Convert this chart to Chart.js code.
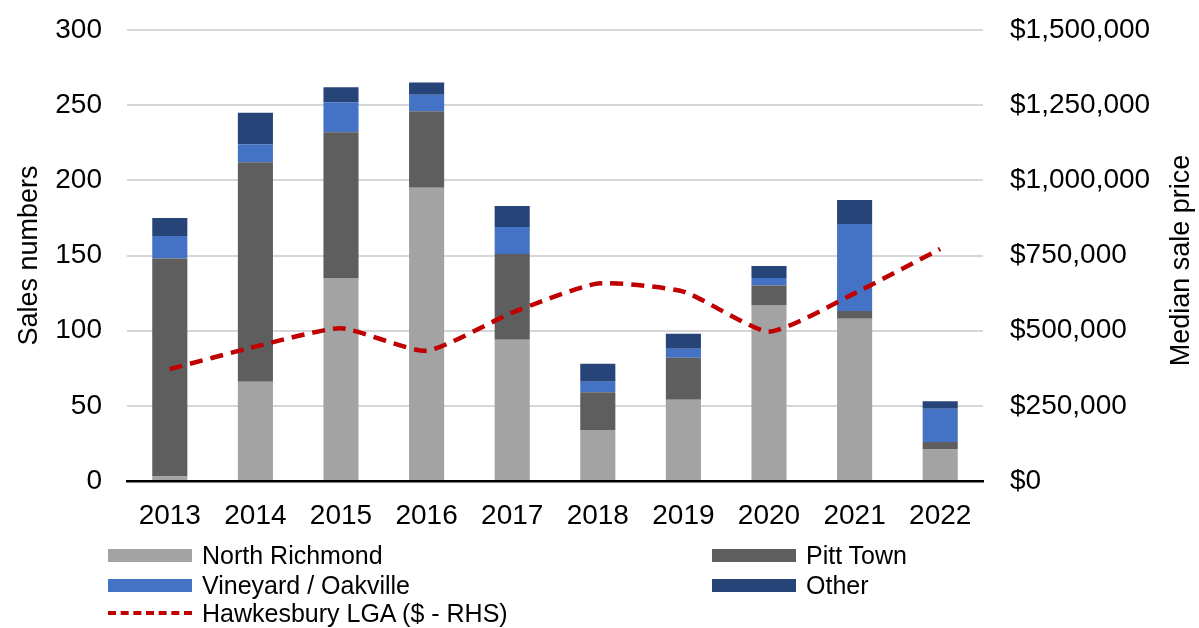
<!DOCTYPE html>
<html>
<head>
<meta charset="utf-8">
<script src="https://cdn.jsdelivr.net/npm/chart.js@4"></script>
<style>
    body { margin: 0; background: #fff; }
    #wrap { position: relative; width: 1199px; height: 628px; }
    #legend { position: absolute; left: 0; top: 0; width: 1199px; height: 628px; pointer-events: none;
              font-family: "Liberation Sans", Arial, sans-serif; font-size: 25px; color: #000; }
    .item { position: absolute; display: flex; align-items: center; height: 28px; }
    .swatch { width: 84px; height: 13px; margin-right: 10px; }
    .dash { width: 84px; height: 0; border-top: 4px dashed #c00000; margin-right: 10px; }
</style>
</head>
<body>
<div id="wrap">
    <canvas id="chart" width="1199" height="628"></canvas>
    <div id="legend"></div>
</div>
<script>
// ================= DATA =================
const years = ["2013","2014","2015","2016","2017","2018","2019","2020","2021","2022"];
const northRichmond = [3, 66, 135, 195, 94, 34, 54, 117, 108, 21];
const pittTown = [145, 146, 97, 51, 57, 25, 28, 13, 5, 5];
const vineyard = [15, 12, 20, 11, 18, 7, 6, 5, 58, 22];
const other = [12, 21, 10, 8, 14, 12, 10, 8, 16, 5];
const medianPrice = [372000, 447000, 508000, 433000, 560000, 657000, 630000, 497000, 624000, 772000];

const leftTicks = [0, 50, 100, 150, 200, 250, 300];
const rightTicks = [0, 250000, 500000, 750000, 1000000, 1250000, 1500000];

const FONT = "'Liberation Sans', Arial, sans-serif";

// ================= RIGHT TITLE (reads bottom to top) =================
const rightTitle = {
    id: "rightTitle",
    afterDraw(chart) {
        const ctx = chart.ctx;
        const area = chart.chartArea;
        ctx.save();
        ctx.translate(1182, (area.top + area.bottom) / 2 + 5);
        ctx.rotate(-Math.PI / 2);
        ctx.font = "27px " + FONT;
        ctx.fillStyle = "#000";
        ctx.textAlign = "center";
        ctx.textBaseline = "middle";
        ctx.fillText("Median sale price", 0, 0);
        ctx.restore();
    }
};

function noEdgePadding(scale) {
    scale.paddingTop = 0;
    scale.paddingBottom = 0;
}

// ================= CHART =================
const barDefaults = { stack: "s", order: 1, barPercentage: 0.41, categoryPercentage: 1, borderWidth: 0 };

new Chart(document.getElementById("chart"), {
    type: "bar",
    data: {
        labels: years,
        datasets: [
            { type: "line", label: "Hawkesbury LGA ($ - RHS)", data: medianPrice, yAxisID: "y1", order: 0,
              borderColor: "#c00000", borderWidth: 4.5, borderDash: [13, 8], borderCapStyle: "butt",
              pointRadius: 0, tension: 0.18, fill: false },
            { ...barDefaults, label: "North Richmond", data: northRichmond, backgroundColor: "#a3a3a3" },
            { ...barDefaults, label: "Pitt Town", data: pittTown, backgroundColor: "#5e5e5e" },
            { ...barDefaults, label: "Vineyard / Oakville", data: vineyard, backgroundColor: "#4472c4" },
            { ...barDefaults, label: "Other", data: other, backgroundColor: "#264478" }
        ]
    },
    options: {
        responsive: false,
        animation: false,
        layout: { padding: { top: 30 } },
        plugins: { legend: { display: false }, tooltip: { enabled: false } },
        scales: {
            x: {
                stacked: true,
                grid: { display: false, drawTicks: false },
                border: { color: "#000", width: 2.5 },
                ticks: { color: "#000", font: { family: FONT, size: 28 }, padding: 18 },
                afterFit(scale) { scale.height = 628 - 481; }
            },
            y: {
                stacked: true,
                position: "left",
                min: 0, max: 300,
                afterBuildTicks(scale) { scale.ticks = leftTicks.map(v => ({ value: v })); },
                grid: { color: "#d6d6d6", lineWidth: 2, drawTicks: false },
                border: { display: false },
                ticks: { color: "#000", font: { family: FONT, size: 28 }, padding: 25 },
                title: { display: true, text: "Sales numbers", color: "#000",
                         font: { family: FONT, size: 27 }, padding: { top: 13, bottom: 0 } },
                afterFit(scale) { scale.width = 127; noEdgePadding(scale); }
            },
            y1: {
                position: "right",
                min: 0, max: 1500000,
                afterBuildTicks(scale) { scale.ticks = rightTicks.map(v => ({ value: v })); },
                grid: { display: false, drawTicks: false },
                border: { display: false },
                ticks: { color: "#000", font: { family: FONT, size: 28 }, padding: 27,
                         callback: v => "$" + Number(v).toLocaleString("en-US") },
                afterFit(scale) { scale.width = 1199 - 983; noEdgePadding(scale); }
            }
        }
    },
    plugins: [rightTitle]
});

// ================= LEGEND =================
const legendItems = [
    { label: "North Richmond", color: "#a3a3a3", x: 108, y: 555 },
    { label: "Pitt Town", color: "#5e5e5e", x: 712, y: 555 },
    { label: "Vineyard / Oakville", color: "#4472c4", x: 108, y: 585 },
    { label: "Other", color: "#264478", x: 712, y: 585 },
    { label: "Hawkesbury LGA ($ - RHS)", dash: true, x: 108, y: 613 }
];
document.getElementById("legend").innerHTML = legendItems.map(it => `
    <div class="item" style="left:${it.x}px;top:${it.y - 14}px">
        ${it.dash ? '<div class="dash"></div>' : `<div class="swatch" style="background:${it.color}"></div>`}
        <span>${it.label}</span>
    </div>`).join("");
</script>
</body>
</html>
